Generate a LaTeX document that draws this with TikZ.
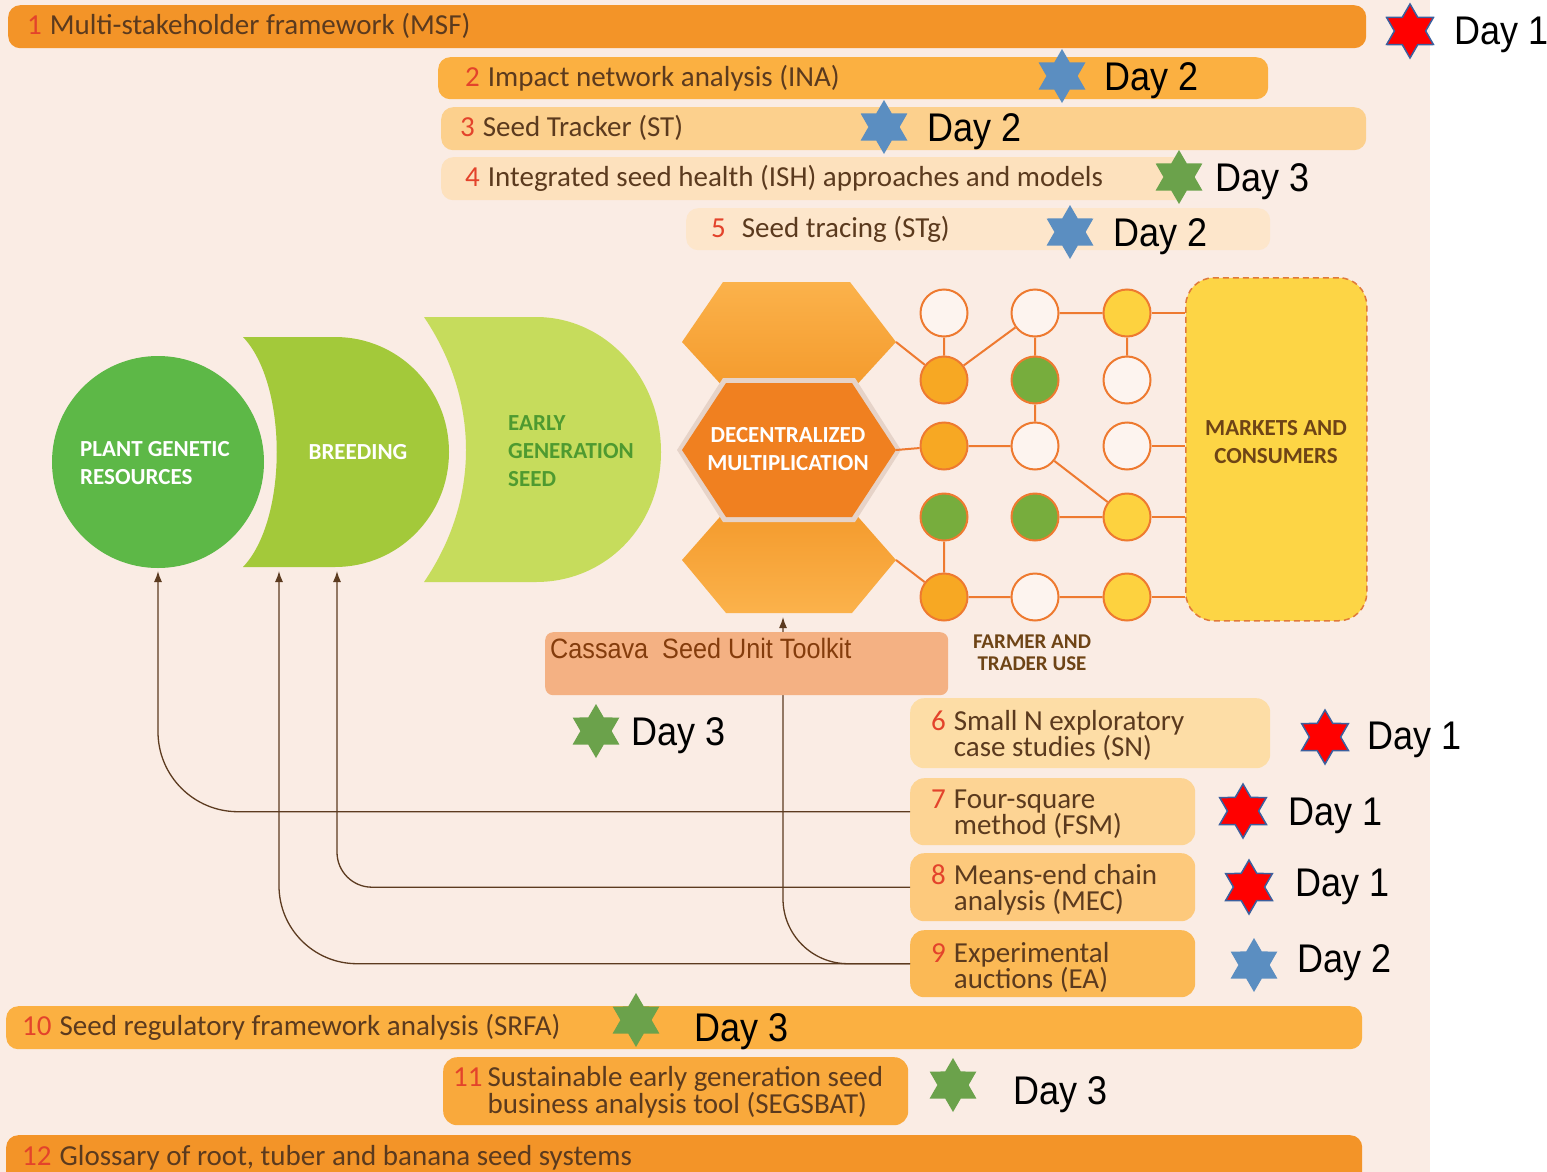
\documentclass[tikz,border=0pt]{standalone}
\usepackage{fontspec}
\setmainfont{Carlito}
\newfontfamily\dayfont[FakeStretch=0.9]{Liberation Sans}
\usetikzlibrary{shapes.geometric,arrows.meta}

\definecolor{bgpink}{HTML}{FAECE4}
\definecolor{ndwhite}{HTML}{FDF4EF}
\definecolor{orA}{HTML}{F39428}
\definecolor{orB}{HTML}{FBB041}
\definecolor{orC}{HTML}{FCD08D}
\definecolor{orD}{HTML}{FDE1BD}
\definecolor{orE}{HTML}{FDE6CB}
\definecolor{orF}{HTML}{FDDDA6}
\definecolor{orG}{HTML}{FDD494}
\definecolor{orH}{HTML}{FDC97C}
\definecolor{orI}{HTML}{FBB955}
\definecolor{orJ}{HTML}{F9A93C}
\definecolor{nrred}{HTML}{E3432B}
\definecolor{txtbrown}{HTML}{5B3A1E}
\definecolor{pgrgreen}{HTML}{5DB847}
\definecolor{brdgreen}{HTML}{A3C93A}
\definecolor{egsgreen}{HTML}{C6DC5C}
\definecolor{egstext}{HTML}{4E9A30}
\definecolor{hexmid}{HTML}{F08020}
\definecolor{hexlight}{HTML}{FBB24B}
\definecolor{hexdark}{HTML}{F49A2C}
\definecolor{hexshadow}{HTML}{E6D3C8}
\definecolor{netor}{HTML}{EE7A30}
\definecolor{netfill}{HTML}{F7A823}
\definecolor{netgreen}{HTML}{77AD3D}
\definecolor{netyellow}{HTML}{FDD23F}
\definecolor{mktfill}{HTML}{FDD545}
\definecolor{mktrim}{HTML}{E07A3A}
\definecolor{mkttext}{HTML}{6E4416}
\definecolor{csbox}{HTML}{F4B183}
\definecolor{cstext}{HTML}{843C0C}
\definecolor{linkbrown}{HTML}{5C3B20}
\definecolor{starred}{HTML}{FF0000}
\definecolor{starrim}{HTML}{3B5F9E}
\definecolor{starblue}{HTML}{5B8EC1}
\definecolor{stargreen}{HTML}{6BA24B}

\newcommand\barfont{\fontsize{29}{26}\selectfont\lineskiplimit=-50pt}
\newcommand\capfont{\bfseries\fontsize{23}{28}\selectfont\lineskiplimit=-50pt}
\newcommand\farmfont{\bfseries\fontsize{21}{22}\selectfont\lineskiplimit=-50pt}
\newcommand\dayfnt{\dayfont\fontsize{40}{40}\selectfont}
\newcommand\csfnt{\dayfont\fontsize{28}{28}\selectfont}
\newcommand\bnum[1]{\textcolor{nrred}{#1}\hspace{8pt}}
\newcommand\twoline[2]{\parbox[t]{440pt}{#1\\#2}}

\tikzset{
  bar/.style={rounded corners=12pt,inner sep=0pt,anchor=north west},
  bartxt/.style={anchor=west,inner sep=0pt,font=\barfont,text=txtbrown},
  caplbl/.style={inner sep=0pt,font=\capfont},
  hexstar/.style={shape=star,star points=6,star point ratio=1.73,minimum size=54pt,inner sep=0pt},
  redstar/.style={hexstar,fill=starred,draw=starrim,line width=1.5pt},
  bluestar/.style={hexstar,fill=starblue},
  greenstar/.style={hexstar,fill=stargreen},
  daylbl/.style={anchor=base west,inner sep=0pt,font=\dayfnt},
  nd/.style={circle,draw=netor,line width=2pt,minimum size=47pt,inner sep=0pt},
  netline/.style={draw=netor,line width=2pt},
  link/.style={draw=linkbrown,line width=1.3pt,-{Latex[length=11pt,width=8pt]}}
}

\begin{document}
\begin{tikzpicture}[x=1pt,y=-1pt]
    \useasboundingbox(0,0)rectangle(1547,1172);
    \fill[white](0,0)rectangle(1547,1172);
    \fill[bgpink](0,0)rectangle(1430,1172);

    % tool bars
    \node[bar,fill=orA,minimum width=1358pt,minimum height=43pt](msf)at(8,5){};
    \node[bartxt](msf-t)at(27,26){\bnum{1}Multi-stakeholder framework (MSF)};
    \node[bar,fill=orB,minimum width=830pt,minimum height=42pt](ina)at(438,57){};
    \node[bartxt](ina-t)at(465,78){\bnum{2}Impact network analysis (INA)};
    \node[bar,fill=orC,minimum width=925pt,minimum height=43pt](st)at(441,107){};
    \node[bartxt](st-t)at(460,128){\bnum{3}Seed Tracker (ST)};
    \node[bar,fill=orD,minimum width=745pt,minimum height=43pt](ish)at(441,157){};
    \node[bartxt](ish-t)at(465,178){\bnum{4}Integrated seed health (ISH) approaches and models};
    \node[bar,fill=orE,minimum width=584pt,minimum height=42pt](stg)at(686,208){};
    \node[bartxt](stg-t)at(711,229){\bnum{5}\hspace{8pt}Seed tracing (STg)};

    % seed system
    \fill[pgrgreen](158,462)circle[radius=106];
    \fill[brdgreen](243,337)--(335,337)..controls(398,337)and(449,388)..(449,452)
        ..controls(449,516)and(398,567)..(335,567)--(243,567)
        ..controls(288,520)and(288,384)..(243,337)--cycle;
    \fill[egsgreen](424,317)--(536,317)..controls(605,317)and(661,377)..(661,452)
        ..controls(661,527)and(605,582)..(536,582)--(424,582)
        ..controls(480,500)and(480,400)..(424,317)--cycle;
    \node[caplbl,text=white,align=left,anchor=west](pgr-t)at(80,463){PLANT GENETIC\\RESOURCES};
    \node[caplbl,text=white](brd-t)at(358,452){BREEDING};
    \node[caplbl,text=egstext,align=left,anchor=west](egs-t)at(508,451){EARLY\\GENERATION\\SEED};

    \shade[top color=hexlight,bottom color=hexdark](723,282)--(850,282)--(896,342)--(852,390)--(726,390)--(682,342)--cycle;
    \shade[top color=hexdark,bottom color=hexlight](726,510)--(852,510)--(896,560)--(852,613)--(726,613)--(682,560)--cycle;
    \fill[hexshadow](723,378)--(855,378)--(901,450)--(855,522)--(723,522)--(677,450)--cycle;
    \fill[hexmid](726,383)--(852,383)--(896,450)--(852,517)--(726,517)--(682,450)--cycle;
    \node[caplbl,text=white,align=center](dm-t)at(788,449){DECENTRALIZED\\MULTIPLICATION};
    \coordinate(hexT-e)at(896,342);
    \coordinate(hexM-e)at(896,450);
    \coordinate(hexB-e)at(896,560);
    \coordinate(hexB-s)at(783,617);

    \foreach \n/\x/\y/\f in {11/944/313/ndwhite,12/944/380/netfill,13/944/446/netfill,14/944/517/netgreen,15/944/597/netfill,
        21/1035/313/ndwhite,22/1035/380/netgreen,23/1035/446/ndwhite,24/1035/517/netgreen,25/1035/597/ndwhite,
        31/1127/313/netyellow,32/1127/380/ndwhite,33/1127/446/ndwhite,34/1127/517/netyellow,35/1127/597/netyellow}
        \node[nd,fill=\f](n\n)at(\x,\y){};
    \node[draw=mktrim,dash pattern=on 6pt off 4pt,line width=1.5pt,fill=mktfill,rounded corners=28pt,
        minimum width=181pt,minimum height=343pt,anchor=north west,inner sep=0pt](mkt)at(1185,277){};
    \node[caplbl,text=mkttext,align=center](mkt-t)at(1276,442){MARKETS AND\\CONSUMERS};
    \draw[netline](hexT-e)--(n12)(n11)--(n12)--(n21)--(n31)(n21)--(n22)--(n23)(n31)--(n32)
        (hexM-e)--(n13)--(n23)--(n34)(n24)--(n34)(n14)--(n15)(hexB-e)--(n15)--(n25)--(n35);
    \draw[netline](n31)--(n31-|mkt.west)(n33)--(n33-|mkt.west)(n34)--(n34-|mkt.west)(n35)--(n35-|mkt.west);
    \node[inner sep=0pt,font=\farmfont,text=mkttext,align=center](farm-t)at(1032,653){FARMER AND\\TRADER USE};

    % social science tools
    \node[bar,rounded corners=14pt,fill=orF,minimum width=360pt,minimum height=70pt](sn)at(910,698){};
    \node[bartxt](sn-t)at(931,735){\bnum{6}\twoline{Small N exploratory}{case studies (SN)}};
    \node[bar,rounded corners=14pt,fill=orG,minimum width=285pt,minimum height=67pt](fsm)at(910,778){};
    \node[bartxt](fsm-t)at(931,814){\bnum{7}\twoline{Four-square}{method (FSM)}};
    \node[bar,rounded corners=14pt,fill=orH,minimum width=285pt,minimum height=68pt](mec)at(910,853){};
    \node[bartxt](mec-t)at(931,890){\bnum{8}\twoline{Means-end chain}{analysis (MEC)}};
    \node[bar,rounded corners=14pt,fill=orI,minimum width=285pt,minimum height=67pt](ea)at(910,930){};
    \node[bartxt](ea-t)at(931,967){\bnum{9}\twoline{Experimental}{auctions (EA)}};

    \coordinate(pgr-s)at(158,571);
    \coordinate(brd-s1)at(279,571);
    \coordinate(brd-s2)at(337,571);
    \draw[link,rounded corners=80pt](fsm.west)-|(pgr-s);
    \draw[link,rounded corners=35pt](mec.west)-|(brd-s2);
    \draw[link,rounded corners=78pt](ea.west)-|(brd-s1);
    \draw[link,rounded corners=65pt](ea.west)-|(hexB-s);

    \node[bar,rounded corners=8pt,fill=csbox,minimum width=403pt,minimum height=63pt](cs)at(545,632){};
    \node[anchor=base west,inner sep=0pt,font=\csfnt,text=cstext](cs-t)at(550,658){Cassava\ \ Seed Unit Toolkit};

    % policy and business tools
    \node[bar,fill=orB,minimum width=1356pt,minimum height=43pt](srfa)at(6,1006){};
    \node[bartxt](srfa-t)at(22,1027){\bnum{10}Seed regulatory framework analysis (SRFA)};
    \node[bar,rounded corners=14pt,fill=orJ,minimum width=465pt,minimum height=68pt](segs)at(443,1057){};
    \node[bartxt](segs-t)at(453,1092){\textcolor{nrred}{11}\hspace{5pt}\twoline{Sustainable early generation seed}{business analysis tool (SEGSBAT)}};
    \node[bar,fill=orA,minimum width=1356pt,minimum height=60pt](gls)at(6,1135){};
    \node[bartxt](gls-t)at(22,1158){\bnum{12}Glossary of root, tuber and banana seed systems};

    % days
    \node[redstar](s1)at(1410,31){};
    \node[daylbl](d1)at(1454,45){Day 1};
    \node[bluestar](s2)at(1062,76){};
    \node[daylbl](d2)at(1104,90){Day 2};
    \node[bluestar](s3)at(884,127){};
    \node[daylbl](d3)at(927,141){Day 2};
    \node[greenstar](s4)at(1179,177){};
    \node[daylbl](d4)at(1215,191){Day 3};
    \node[bluestar](s5)at(1070,232){};
    \node[daylbl](d5)at(1113,246){Day 2};
    \node[greenstar](scs)at(596,731){};
    \node[daylbl](dcs)at(631,745){Day 3};
    \node[redstar](s6)at(1325,737){};
    \node[daylbl](d6)at(1367,749){Day 1};
    \node[redstar](s7)at(1243,811){};
    \node[daylbl](d7)at(1288,825){Day 1};
    \node[redstar](s8)at(1249,887){};
    \node[daylbl](d8)at(1295,896){Day 1};
    \node[bluestar](s9)at(1254,965){};
    \node[daylbl](d9)at(1297,972){Day 2};
    \node[greenstar](s10)at(636,1020){};
    \node[daylbl](d10)at(694,1041){Day 3};
    \node[greenstar](s11)at(953,1085){};
    \node[daylbl](d11)at(1013,1104){Day 3};
\end{tikzpicture}
\end{document}
